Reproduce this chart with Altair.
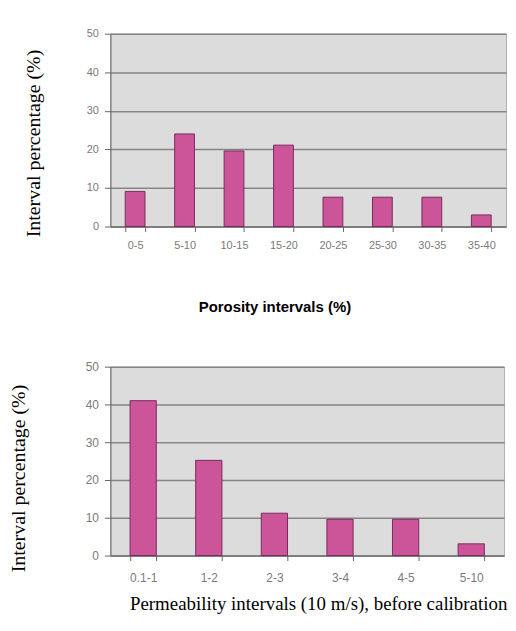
import altair as alt
import pandas as pd

por_cats = ["0-5", "5-10", "10-15", "15-20", "20-25", "25-30", "30-35", "35-40"]
por_vals = [9.1, 24.0, 19.6, 21.1, 7.6, 7.6, 7.6, 3.0]

perm_cats = ["0.1-1", "1-2", "2-3", "3-4", "4-5", "5-10"]
perm_vals = [41.0, 25.2, 11.2, 9.6, 9.6, 3.1]

y_ticks = [0, 10, 20, 30, 40, 50]

df1 = pd.DataFrame({"cat": por_cats, "val": por_vals})
df2 = pd.DataFrame({"cat": perm_cats, "val": perm_vals})

BAR = "#cc5599"
BAR_STROKE = "#7a2a5e"
LBL = "#7a7a7a"


def panel(df, cats, xtitle, xtitle_font, xtitle_size, xtitle_weight, xtitle_x,
          xtitle_pad, lbl_size, xlbl_pad, ytitle_pad, ytitle_y, w, h):
    return alt.Chart(df).mark_bar(
        color=BAR, stroke=BAR_STROKE, strokeWidth=1
    ).encode(
        x=alt.X("cat:N", sort=cats,
                scale=alt.Scale(paddingInner=0.6, paddingOuter=0.3),
                axis=alt.Axis(title=xtitle, labelAngle=0, tickBand="extent",
                              labelColor=LBL, labelFont="Liberation Sans",
                              labelFontSize=lbl_size, labelPadding=xlbl_pad,
                              tickColor="#666", tickSize=5, domainColor="#666",
                              titleFont=xtitle_font, titleFontSize=xtitle_size,
                              titleFontWeight=xtitle_weight, titleColor="#000",
                              titlePadding=xtitle_pad, titleX=xtitle_x,
                              titleAlign="center")),
        y=alt.Y("val:Q", scale=alt.Scale(domain=[0, 50]),
                axis=alt.Axis(title="Interval percentage (%)", values=y_ticks,
                              grid=True, gridColor="#858585", gridWidth=1.5,
                              labelColor=LBL, labelFont="Liberation Sans",
                              labelFontSize=lbl_size, labelPadding=6,
                              tickColor="#666", tickSize=6, domainColor="#666",
                              titleFont="Liberation Serif", titleFontSize=20,
                              titleFontWeight="normal", titleColor="#000",
                              titlePadding=ytitle_pad, titleY=ytitle_y)),
    ).properties(width=w, height=h)


top = panel(df1, por_cats, "Porosity intervals (%)", "Liberation Sans", 15, "bold",
            165, 50, 11, 8, 43, 110, 398, 194)
bottom = panel(df2, perm_cats, "Permeability intervals (10 m/s), before calibration",
               "Liberation Serif", 19, "normal", 209, 11, 12, 12, 57, 112, 396, 190)

chart = alt.vconcat(top, bottom, spacing=44).properties(
    padding={"left": 0, "top": 17, "right": 0, "bottom": 0}
).configure_view(fill="#dcdcdc", stroke="#b0b0b0")

chart.save("out.html", embed_options={"renderer": "svg", "actions": False})
